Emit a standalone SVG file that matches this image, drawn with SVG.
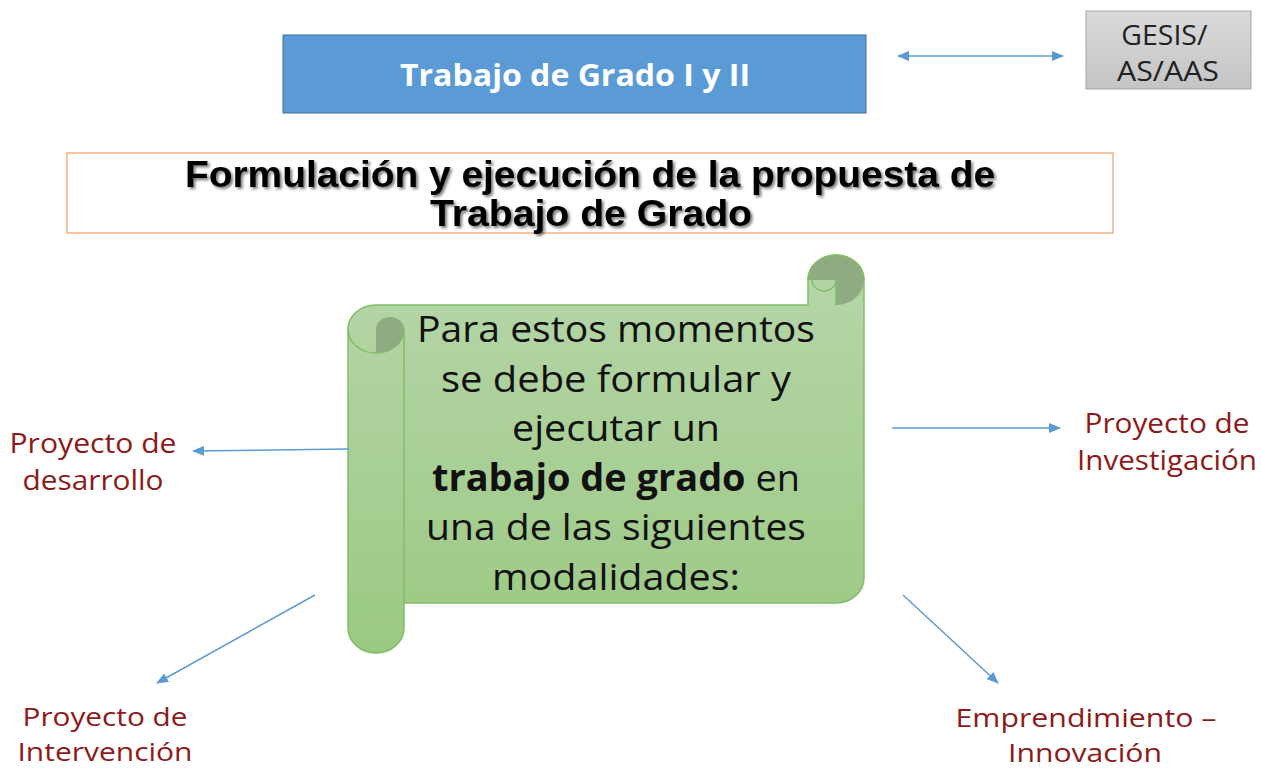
<svg xmlns="http://www.w3.org/2000/svg" width="1261" height="768" viewBox="0 0 1261 768">
  <defs>
    <linearGradient id="scrollGrad" x1="0" y1="255" x2="0" y2="653" gradientUnits="userSpaceOnUse">
      <stop offset="0" stop-color="#b7d6aa"/>
      <stop offset="1" stop-color="#9bc983"/>
    </linearGradient>
    <linearGradient id="greyGrad" x1="0" y1="0" x2="0" y2="1">
      <stop offset="0" stop-color="#dadada"/>
      <stop offset="1" stop-color="#c4c4c4"/>
    </linearGradient>
    <filter id="shadow" x="-5%" y="-20%" width="110%" height="140%">
      <feDropShadow dx="2" dy="2" stdDeviation="1.5" flood-color="#000" flood-opacity="0.55"/>
    </filter>
    <marker id="arrow" viewBox="0 0 12 10" refX="11" refY="5" markerWidth="12" markerHeight="10" markerUnits="userSpaceOnUse" orient="auto-start-reverse">
      <path d="M0,0 L12,5 L0,10 Z" fill="#5b9bd5"/>
    </marker>
  </defs>
  <style>
    .conn { stroke: #5b9bd5; stroke-width: 1.5; fill: none; }
    .label { font-family: "Open Sans", "Liberation Sans", sans-serif; font-size: 27px; fill: #8c1a1a; text-anchor: middle; }
    .label-sm { font-size: 25px; }
    .scrolltext { font-family: "Open Sans", "Liberation Sans", sans-serif; font-size: 37px; fill: #111; text-anchor: middle; }
    .scroll-stroke { stroke: #80bd66; stroke-width: 1.5; }
    .curl { fill: #8fab82; }
  </style>

  <g id="trabajo-grado">
    <rect x="283" y="35" width="583" height="78" fill="#5b9bd5" stroke="#41719c" stroke-width="1"/>
    <text x="575" y="86" font-family="'Open Sans', 'Liberation Sans', sans-serif" font-weight="bold" font-size="31" fill="#ffffff" text-anchor="middle" textLength="350" lengthAdjust="spacingAndGlyphs">Trabajo de Grado I y II</text>
  </g>

  <g id="gesis">
    <rect x="1086" y="11" width="165" height="78" fill="url(#greyGrad)" stroke="#a6a6a6" stroke-width="1"/>
    <text font-family="'Open Sans', 'Liberation Sans', sans-serif" font-size="28" fill="#222" text-anchor="middle">
      <tspan x="1168" y="45" textLength="86" lengthAdjust="spacingAndGlyphs">GESIS/</tspan>
      <tspan x="1168" y="81" textLength="102" lengthAdjust="spacingAndGlyphs">AS/AAS</tspan>
    </text>
  </g>

  <g id="formulacion">
    <rect x="67" y="153" width="1046" height="80" fill="#ffffff" stroke="#f4b183" stroke-width="1.5"/>
    <g font-family="'Liberation Sans', Arial, sans-serif" font-weight="bold" font-size="36" fill="#000" text-anchor="middle" filter="url(#shadow)">
      <text x="590" y="187" textLength="810" lengthAdjust="spacingAndGlyphs">Formulación y ejecución de la propuesta de</text>
      <text x="591" y="226" textLength="322" lengthAdjust="spacingAndGlyphs">Trabajo de Grado</text>
    </g>
  </g>

  <g id="scroll">
    <path d="M348,329 A28,24 0 0 1 376,305 L808,305 L808,280 A28,25 0 0 1 864,280 L864,578 A28,25 0 0 1 836,603 L404,603 L404,628 A28,25 0 0 1 348,628 Z" fill="url(#scrollGrad)" class="scroll-stroke"/>
    <path d="M348,329 A28,24 0 0 0 404,329" fill="none" class="scroll-stroke"/>
    <path d="M376,353 L376,329 A14,12 0 0 1 404,329 A28,24 0 0 1 376,353 Z" class="curl"/>
    <line x1="404" y1="329" x2="404" y2="603" class="scroll-stroke"/>
    <path d="M808,280 A28,25 0 0 1 864,280 A28,25 0 0 1 836,305 L836,280 Z" class="curl"/>
    <path d="M812,280 A12,11 0 0 0 836,280" fill="#b3d4a5" class="scroll-stroke"/>
    <line x1="836" y1="280" x2="836" y2="305" class="scroll-stroke"/>
    <path d="M808,280 A28,25 0 0 1 864,280" fill="none" class="scroll-stroke"/>
    <text class="scrolltext" x="616" y="342" textLength="398" lengthAdjust="spacingAndGlyphs">Para estos momentos</text>
    <text class="scrolltext" x="616" y="392" textLength="350" lengthAdjust="spacingAndGlyphs">se debe formular y</text>
    <text class="scrolltext" x="616" y="441" textLength="208" lengthAdjust="spacingAndGlyphs">ejecutar un</text>
    <text class="scrolltext" x="616" y="491" textLength="368" lengthAdjust="spacingAndGlyphs"><tspan font-weight="bold">trabajo de grado</tspan> en</text>
    <text class="scrolltext" x="616" y="540" textLength="380" lengthAdjust="spacingAndGlyphs">una de las siguientes</text>
    <text class="scrolltext" x="616" y="590" textLength="248" lengthAdjust="spacingAndGlyphs">modalidades:</text>
  </g>

  <g id="desarrollo">
    <text class="label" x="93" y="453" textLength="167" lengthAdjust="spacingAndGlyphs">Proyecto de</text>
    <text class="label" x="93" y="490" textLength="141" lengthAdjust="spacingAndGlyphs">desarrollo</text>
  </g>
  <g id="investigacion">
    <text class="label" x="1167" y="433" textLength="165" lengthAdjust="spacingAndGlyphs">Proyecto de</text>
    <text class="label" x="1167" y="470" textLength="180" lengthAdjust="spacingAndGlyphs">Investigación</text>
  </g>
  <g id="intervencion">
    <text class="label label-sm" x="105" y="726" textLength="165" lengthAdjust="spacingAndGlyphs">Proyecto de</text>
    <text class="label label-sm" x="105" y="761" textLength="175" lengthAdjust="spacingAndGlyphs">Intervención</text>
  </g>
  <g id="emprendimiento">
    <text class="label label-sm" x="1086" y="727" textLength="261" lengthAdjust="spacingAndGlyphs">Emprendimiento –</text>
    <text class="label label-sm" x="1085" y="762" textLength="154" lengthAdjust="spacingAndGlyphs">Innovación</text>
  </g>

  <g id="connectors">
    <line class="conn" x1="898" y1="56" x2="1063" y2="56" marker-start="url(#arrow)" marker-end="url(#arrow)"/>
    <line class="conn" x1="349" y1="449" x2="193" y2="451" marker-end="url(#arrow)"/>
    <line class="conn" x1="315" y1="595" x2="157" y2="683" marker-end="url(#arrow)"/>
    <line class="conn" x1="892" y1="428" x2="1060" y2="428" marker-end="url(#arrow)"/>
    <line class="conn" x1="903" y1="595" x2="998" y2="683" marker-end="url(#arrow)"/>
  </g>
</svg>
